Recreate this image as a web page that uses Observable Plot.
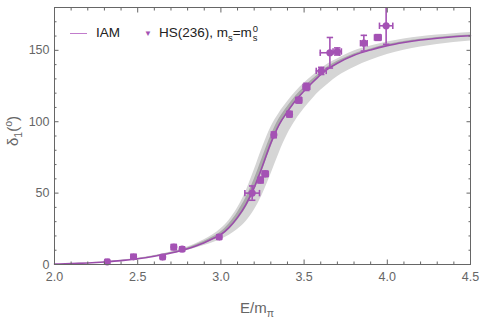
<!DOCTYPE html>
<html>
<head>
<meta charset="utf-8">
<script src="https://cdn.jsdelivr.net/npm/d3@7"></script>
<script src="https://cdn.jsdelivr.net/npm/@observablehq/plot@0.6"></script>
<style>
  html, body { margin: 0; padding: 0; background: white; }
  #wrap { position: relative; width: 480px; height: 320px; font-family: "Liberation Sans", Arial, sans-serif; }
  #wrap svg { position: absolute; left: 0; top: 0; }
  .lbl { position: absolute; color: #666; font-size: 15px; white-space: nowrap; line-height: 1; }
  .legend { position: absolute; left: 70px; top: 24px; font-size: 13.5px; color: #222; white-space: nowrap; line-height: 1; }
  sub, sup { font-size: 70%; line-height: 0; }
  .stack { display: inline-block; vertical-align: -4px; font-size: 70%; line-height: 1; text-align: left; margin-left: 1px; }
  .stack span { display: block; }
</style>
</head>
<body>
<div id="wrap"></div>
<script>
// ---- IAM curve ----
const curveE  = [2.0,2.1,2.2,2.3,2.4,2.5,2.6,2.7,2.8,2.85,2.9,2.95,3.0,3.05,3.1,3.15,3.2,3.25,3.3,3.35,3.4,3.45,3.5,3.55,3.6,3.65,3.7,3.8,3.9,4.0,4.1,4.2,4.3,4.4,4.5];
const curveD  = [0.3,0.6,1.1,1.8,2.7,4.0,5.8,8.0,11.0,13.0,15.3,18.0,21.0,26.0,33.0,42.0,54.0,69.0,85.0,98.0,107.0,115.0,121.5,127.5,133.0,137.5,141.0,146.5,150.3,153.3,155.5,157.2,158.5,159.5,160.2];
// outer (light) uncertainty band
const outerHi = [0.3,0.6,1.1,1.9,2.9,4.3,6.3,8.8,12.3,14.6,17.3,20.6,25.0,31.0,39.5,51.0,66.0,82.0,96.0,106.0,114.0,121.0,127.0,132.0,137.0,141.0,144.0,149.5,153.0,155.8,158.0,159.5,160.7,161.7,162.5];
const outerLo = [0.3,0.6,1.0,1.7,2.5,3.7,5.3,7.3,9.8,11.5,13.3,15.3,17.5,20.5,24.5,30.0,38.0,49.0,63.0,78.0,91.0,101.0,109.0,116.0,122.0,127.0,131.5,138.0,143.0,147.0,150.0,152.3,154.0,155.5,156.6];
// inner (dark) band
const innerHi = [0.3,0.6,1.1,1.8,2.8,4.1,6.0,8.4,11.6,13.8,16.3,19.2,22.8,28.5,36.5,46.5,59.5,75.0,90.0,102.0,110.5,118.0,124.0,129.5,134.5,139.0,142.3,147.5,151.0,154.0,156.1,157.7,159.0,160.0,160.7];
const innerLo = [0.3,0.6,1.0,1.7,2.6,3.9,5.6,7.7,10.5,12.4,14.5,17.0,19.8,24.5,31.0,39.5,51.0,66.0,82.0,96.0,105.5,114.0,120.5,126.5,132.0,136.5,140.2,145.8,149.8,152.8,155.0,156.8,158.1,159.2,159.9];

// ---- HS(236) lattice points ----
const ptE  = [2.317,2.475,2.650,2.717,2.767,2.990,3.188,3.238,3.266,3.318,3.412,3.468,3.514,3.603,3.655,3.699,3.859,3.943,3.993];
const ptD  = [1.9,5.4,5.2,12.2,10.8,19.2,50.0,59.1,63.5,90.8,105.3,115.1,124.4,135.6,148.3,149.2,155.0,159.0,167.2];
const ptEx = [0.012,0.015,0.012,0.015,0.012,0.012,0.044,0.015,0.018,0.012,0.015,0.018,0.02,0.03,0.058,0.025,0.02,0.02,0.04];
const ptDy = [1.2,1.5,1.2,1.8,1.5,1.5,5.0,2.0,2.0,2.0,2.0,2.0,2.5,2.5,10.7,2.5,5.5,2.0,13.0];

// ---- ticks ----
const xMajor = [2.0,2.5,3.0,3.5,4.0,4.5];
const xMinor = [2.1,2.2,2.3,2.4,2.6,2.7,2.8,2.9,3.1,3.2,3.3,3.4,3.6,3.7,3.8,3.9,4.1,4.2,4.3,4.4];
const yMajor = [0,50,100,150];
const yMinor = [10,20,30,40,60,70,80,90,110,120,130,140,160,170];

const curve = curveE.map((e,i) => ({E:e, d:curveD[i], oh:outerHi[i], ol:outerLo[i], ih:innerHi[i], il:innerLo[i]}));
const pts = ptE.map((e,i) => ({E:e, d:ptD[i], ex:ptEx[i], ey:ptDy[i]}));

const purple = "#a452b4";
const hcap = {draw(ctx, size){ const w = Math.sqrt(size/Math.PI); ctx.moveTo(-w,0); ctx.lineTo(w,0); }};
const vcap = {draw(ctx, size){ const w = Math.sqrt(size/Math.PI); ctx.moveTo(0,-w); ctx.lineTo(0,w); }};
const axc = "#666";

const chart = Plot.plot({
  width: 480, height: 320,
  marginLeft: 54, marginRight: 10, marginTop: 7, marginBottom: 56,
  x: {domain: [2, 4.5]},
  y: {domain: [0, 180]},
  style: {fontFamily: "'Liberation Sans', Arial, sans-serif", fontSize: "12.5px", color: axc, background: "white"},
  marks: [
    Plot.areaY(curve, {x: "E", y1: "ol", y2: "oh", fill: "#d5d5d5", curve: "monotone-x"}),
    Plot.areaY(curve, {x: "E", y1: "il", y2: "ih", fill: "#a9a9a9", curve: "monotone-x"}),
    Plot.line(curve, {x: "E", y: "d", stroke: "#9b4dab", strokeWidth: 1.6, curve: "monotone-x"}),
    Plot.ruleX(pts, {x: "E", y1: d => d.d - d.ey, y2: d => d.d + d.ey, stroke: purple, strokeWidth: 1.6, clip: true}),
    Plot.ruleY(pts, {y: "d", x1: d => d.E - d.ex, x2: d => d.E + d.ex, stroke: purple, strokeWidth: 1.6, clip: true}),
    Plot.dot(pts, {x: "E", y: d => d.d + d.ey, symbol: hcap, r: 3.2, stroke: purple, strokeWidth: 1.6, clip: true}),
    Plot.dot(pts, {x: "E", y: d => d.d - d.ey, symbol: hcap, r: 3.2, stroke: purple, strokeWidth: 1.6, clip: true}),
    Plot.dot(pts, {x: d => d.E - d.ex, y: "d", symbol: vcap, r: 3.2, stroke: purple, strokeWidth: 1.6, clip: true}),
    Plot.dot(pts, {x: d => d.E + d.ex, y: "d", symbol: vcap, r: 3.2, stroke: purple, strokeWidth: 1.6, clip: true}),
    Plot.dot(pts, {x: "E", y: "d", r: 3.6, fill: purple}),
    Plot.frame({stroke: axc, strokeWidth: 1}),
    // labels
    Plot.axisX(xMajor, {anchor: "bottom", tickSize: 0, tickPadding: 8, tickFormat: d3.format(".1f"), label: null, fill: axc}),
    Plot.axisY(yMajor, {anchor: "left", tickSize: 0, tickPadding: 5, tickFormat: d3.format("d"), label: null, fill: axc}),
    // inward ticks
    Plot.axisX(xMajor, {anchor: "bottom", tickSize: -4.5, tickFormat: () => "", label: null, stroke: axc}),
    Plot.axisX(xMinor, {anchor: "bottom", tickSize: -2.5, tickFormat: () => "", label: null, stroke: axc}),
    Plot.axisX(xMajor, {anchor: "top", tickSize: -4.5, tickFormat: () => "", label: null, stroke: axc}),
    Plot.axisX(xMinor, {anchor: "top", tickSize: -2.5, tickFormat: () => "", label: null, stroke: axc}),
    Plot.axisY(yMajor, {anchor: "left", tickSize: -4.5, tickFormat: () => "", label: null, stroke: axc}),
    Plot.axisY(yMinor, {anchor: "left", tickSize: -2.5, tickFormat: () => "", label: null, stroke: axc}),
    Plot.axisY(yMajor, {anchor: "right", tickSize: -4.5, tickFormat: () => "", label: null, stroke: axc}),
    Plot.axisY(yMinor, {anchor: "right", tickSize: -2.5, tickFormat: () => "", label: null, stroke: axc})
  ]
});

const wrap = document.getElementById("wrap");
wrap.appendChild(chart);

// axis titles
const xl = document.createElement("div");
xl.className = "lbl";
xl.innerHTML = "E/m<sub>π</sub>";
xl.style.left = "240px"; xl.style.top = "300px";
wrap.appendChild(xl);

const yl = document.createElement("div");
yl.className = "lbl";
yl.innerHTML = "δ<sub>1</sub>(<sup>o</sup>)";
yl.style.left = "12px"; yl.style.top = "131px";
yl.style.transform = "translate(-50%,-50%) rotate(-90deg)";
yl.style.transformOrigin = "center";
wrap.appendChild(yl);

// legend
const lg = document.createElement("div");
lg.className = "legend";
lg.innerHTML =
  '<span style="display:inline-block;width:17px;height:0;border-top:1.6px solid #c17ccc;vertical-align:middle;margin-right:9px"></span>IAM' +
  '<span style="display:inline-block;margin-left:24px;margin-right:7px;color:' + purple + ';font-size:8px;vertical-align:middle">▼</span>' +
  'HS(236), m<sub>s</sub>=m<span class="stack"><span>0</span><span>s</span></span>';
wrap.appendChild(lg);
</script>
</body>
</html>
